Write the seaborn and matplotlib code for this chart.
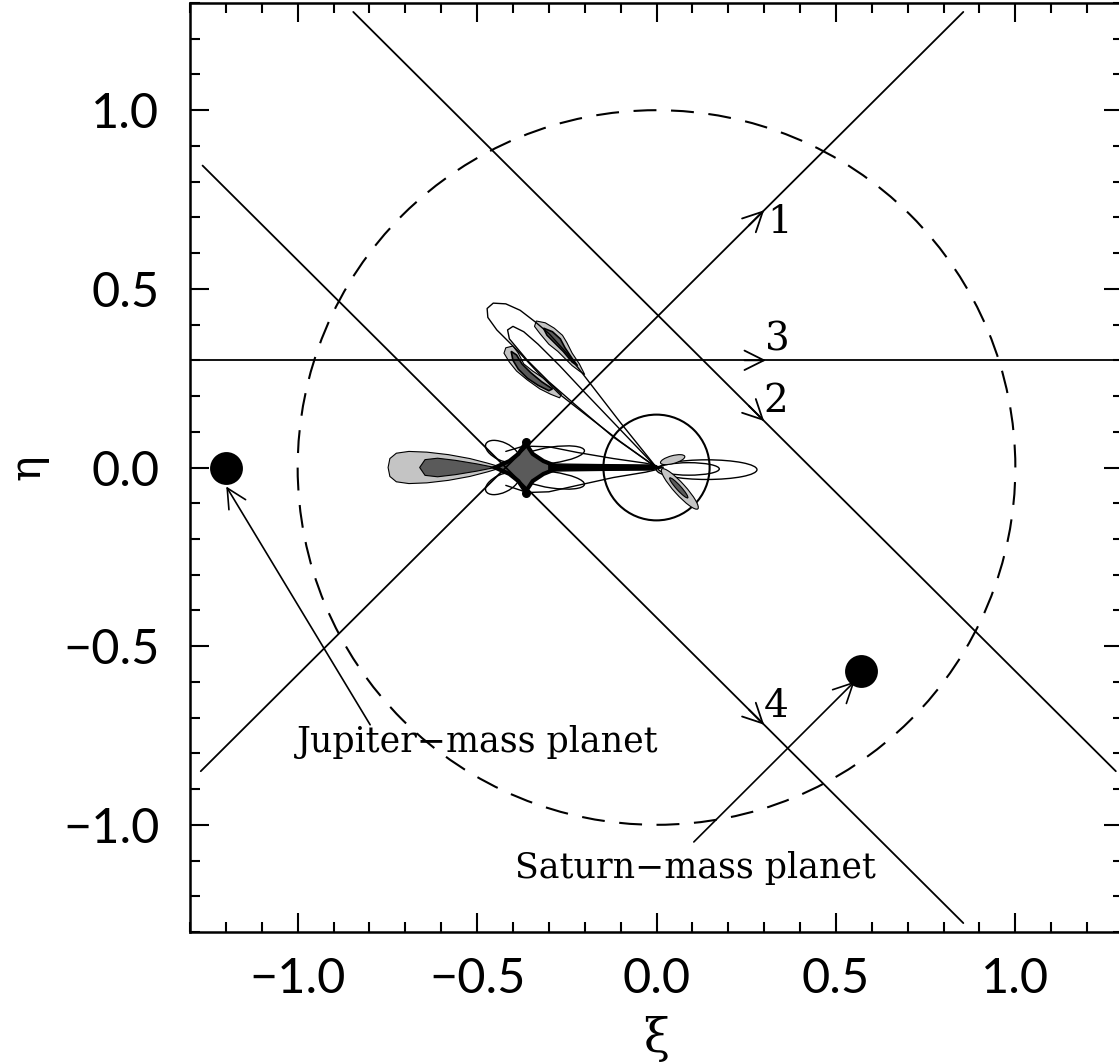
import numpy as np
import pandas as pd
import matplotlib
matplotlib.use('Agg')
import matplotlib.pyplot as plt
from matplotlib.patches import Circle, Ellipse
from matplotlib.ticker import MultipleLocator, FuncFormatter
import seaborn as sns

# --- source trajectories (start / end points, arrow position, label) ---
track_ids = ['1', '2', '3', '4']
track_x0 = [-1.27, -0.845, -1.30, -1.265]
track_y0 = [-0.85, 1.275, 0.30, 0.845]
track_x1 = [0.855, 1.28, 1.30, 0.855]
track_y1 = [1.275, -0.85, 0.30, -1.275]
arrow_tip_x = [0.30, 0.30, 0.305, 0.30]
arrow_tip_y = [0.72, 0.13, 0.30, -0.72]
num_x = [0.342, 0.333, 0.336, 0.333]
num_y = [0.686, 0.185, 0.356, -0.67]

# --- planets ---
planet_names = ['Jupiter\u2212mass planet', 'Saturn\u2212mass planet']
planet_x = [-1.20, 0.57]
planet_y = [0.0, -0.57]
planet_text_x = [-1.003, -0.395]
planet_text_y = [-0.767, -1.12]
planet_arrow_tail_x = [-0.798, 0.104]
planet_arrow_tail_y = [-0.72, -1.048]
planet_arrow_tip_x = [-1.199, 0.552]
planet_arrow_tip_y = [-0.053, -0.599]

# --- circles ---
einstein_radius = 1.0
source_radius = 0.148

# --- caustic / magnification contours ---
lobe_out_x = [-0.43, -0.47, -0.52, -0.58, -0.64, -0.69, -0.725, -0.743, -0.748,
              -0.743, -0.725, -0.69, -0.64, -0.58, -0.52, -0.47]
lobe_out_y = [0.0, 0.012, 0.025, 0.036, 0.043, 0.045, 0.040, 0.025, 0.0,
              -0.025, -0.040, -0.045, -0.043, -0.036, -0.025, -0.012]
lobe_in_x = [-0.45, -0.50, -0.56, -0.61, -0.645, -0.66, -0.645, -0.61, -0.56, -0.50]
lobe_in_y = [0.0, 0.010, 0.020, 0.026, 0.022, 0.0, -0.022, -0.026, -0.020, -0.010]
diamond_x = [-0.45, -0.41, -0.385, -0.365, -0.345, -0.315, -0.27,
             -0.315, -0.345, -0.365, -0.385, -0.41]
diamond_y = [0.0, 0.018, 0.038, 0.068, 0.038, 0.018, 0.0,
             -0.018, -0.038, -0.068, -0.038, -0.018]
knob_x = [-0.365, -0.365]
knob_y = [0.072, -0.072]
bar_x = [-0.30, -0.15, -0.02, 0.02, -0.02, -0.15, -0.30]
bar_y = [0.010, 0.008, 0.007, 0.0, -0.007, -0.008, -0.010]
lens_up_x = [-0.42, -0.37, -0.30, -0.22, -0.12, -0.03, 0.0]
lens_up_y = [0.045, 0.060, 0.058, 0.042, 0.025, 0.012, 0.005]
lens_lo_x = [-0.42, -0.36, -0.30, -0.22, -0.12, -0.03, 0.0]
lens_lo_y = [-0.050, -0.070, -0.068, -0.050, -0.028, -0.013, -0.006]

# thin loops: centre x, centre y, width, height, angle
loop_cx = [-0.43, -0.43, -0.29, -0.29, 0.14, 0.09]
loop_cy = [0.045, -0.045, 0.035, -0.035, -0.006, -0.004]
loop_w = [0.10, 0.10, 0.18, 0.18, 0.28, 0.17]
loop_h = [0.05, 0.05, 0.045, 0.045, 0.055, 0.035]
loop_ang = [-25, 25, 8, -8, 0, 0]

# small shaded lobes near the centre: cx, cy, w, h, angle, colour
small_cx = [0.045, 0.065, 0.062]
small_cy = [0.022, -0.060, -0.057]
small_w = [0.07, 0.15, 0.075]
small_h = [0.022, 0.032, 0.013]
small_ang = [15, -48, -48]
small_col = ['#c4c4c4', '#c4c4c4', '#5a5a5a']

outer_loop_x = [0.0, -0.10, -0.20, -0.25, -0.30, -0.336, -0.38, -0.42, -0.455, -0.472,
                -0.47, -0.445, -0.39, -0.33, -0.27, -0.20, -0.10, 0.0]
outer_loop_y = [0.0, 0.125, 0.255, 0.32, 0.375, 0.406, 0.44, 0.458, 0.46, 0.445,
                0.42, 0.385, 0.33, 0.265, 0.205, 0.15, 0.072, 0.0]
inner_loop_x = [0.0, -0.10, -0.20, -0.27, -0.33, -0.37, -0.40, -0.415,
                -0.41, -0.385, -0.36, -0.30, -0.22, -0.12, 0.0]
inner_loop_y = [0.0, 0.105, 0.21, 0.285, 0.345, 0.38, 0.395, 0.385,
                0.36, 0.33, 0.30, 0.24, 0.17, 0.085, 0.0]

blob1_x = [-0.335, -0.31, -0.285, -0.262, -0.25, -0.235, -0.215, -0.20, -0.215,
           -0.235, -0.255, -0.275, -0.30, -0.325, -0.34]
blob1_y = [0.41, 0.405, 0.39, 0.37, 0.35, 0.32, 0.29, 0.26, 0.27,
           0.285, 0.305, 0.325, 0.345, 0.375, 0.395]
blob1_in_x = [-0.315, -0.29, -0.268, -0.255, -0.235, -0.22, -0.235, -0.26, -0.28, -0.305]
blob1_in_y = [0.39, 0.38, 0.36, 0.335, 0.305, 0.285, 0.295, 0.325, 0.345, 0.37]
blob2_x = [-0.42, -0.40, -0.385, -0.37, -0.345, -0.315, -0.285, -0.265, -0.27,
           -0.295, -0.325, -0.36, -0.39, -0.41, -0.425]
blob2_y = [0.335, 0.34, 0.32, 0.29, 0.27, 0.25, 0.225, 0.205, 0.195,
           0.205, 0.22, 0.245, 0.27, 0.295, 0.32]
blob2_in_x = [-0.405, -0.39, -0.375, -0.35, -0.32, -0.29, -0.30, -0.33, -0.36, -0.385, -0.40]
blob2_in_y = [0.325, 0.315, 0.29, 0.265, 0.24, 0.22, 0.215, 0.23, 0.25, 0.275, 0.30]

LIGHT = '#c4c4c4'
DARK = '#5a5a5a'

sns.set_style('ticks')
plt.rcParams['font.family'] = ['DejaVu Sans']
plt.rcParams['text.color'] = 'black'
plt.rcParams['axes.labelcolor'] = 'black'

fig = plt.figure(figsize=(11.19, 10.64), dpi=100)
ax = fig.add_axes([190 / 1119, 132 / 1064, 933 / 1119, 929 / 1064])

# trajectories through seaborn
tracks = pd.DataFrame({
    'track': [t for t in track_ids for _ in range(2)],
    'x': [v for pair in zip(track_x0, track_x1) for v in pair],
    'y': [v for pair in zip(track_y0, track_y1) for v in pair],
})
sns.lineplot(data=tracks, x='x', y='y', hue='track', units='track', estimator=None,
             sort=False, palette=['black'] * 4, linewidth=1.3, legend=False, ax=ax)

for i, t in enumerate(track_ids):
    d = np.array([track_x1[i] - track_x0[i], track_y1[i] - track_y0[i]])
    d = d / np.hypot(*d)
    tip = (arrow_tip_x[i], arrow_tip_y[i])
    ax.annotate('', xy=tip, xytext=(tip[0] - 0.06 * d[0], tip[1] - 0.06 * d[1]),
                arrowprops=dict(arrowstyle='->,head_length=0.7,head_width=0.35',
                                color='black', lw=1.3, mutation_scale=20,
                                shrinkA=0, shrinkB=0))
    ax.text(num_x[i], num_y[i], t, fontsize=28, family='DejaVu Serif',
            ha='center', va='center')

# circles
ax.add_patch(Circle((0, 0), einstein_radius, fill=False, ls=(0, (11, 7)), lw=1.5, ec='black'))
ax.add_patch(Circle((0, 0), source_radius, fill=False, lw=1.5, ec='black'))

# contours
ax.fill(lobe_out_x, lobe_out_y, fc=LIGHT, ec='black', lw=0.8)
ax.fill(lobe_in_x, lobe_in_y, fc=DARK, ec='black', lw=0.8)
ax.plot(lens_up_x, lens_up_y, color='black', lw=1.0)
ax.plot(lens_lo_x, lens_lo_y, color='black', lw=1.0)
for cx, cy, w, h, a in zip(loop_cx, loop_cy, loop_w, loop_h, loop_ang):
    ax.add_patch(Ellipse((cx, cy), w, h, angle=a, fill=False, ec='black', lw=1.0))
for cx, cy, w, h, a, c in zip(small_cx, small_cy, small_w, small_h, small_ang, small_col):
    ax.add_patch(Ellipse((cx, cy), w, h, angle=a, fc=c, ec='black', lw=0.8))
ax.fill(diamond_x, diamond_y, fc=DARK, ec='black', lw=3.0)
ax.fill(bar_x, bar_y, fc='black', ec='black', lw=1.0)
ax.scatter(knob_x, knob_y, s=30, color='black', zorder=4)

ax.plot(outer_loop_x, outer_loop_y, color='black', lw=1.0)
ax.plot(inner_loop_x, inner_loop_y, color='black', lw=1.0)
ax.fill(blob1_x, blob1_y, fc=LIGHT, ec='black', lw=0.8)
ax.fill(blob1_in_x, blob1_in_y, fc=DARK, ec='black', lw=1.2)
ax.fill(blob2_x, blob2_y, fc=LIGHT, ec='black', lw=0.8)
ax.fill(blob2_in_x, blob2_in_y, fc=DARK, ec='black', lw=1.2)

# planets
sns.scatterplot(x=planet_x, y=planet_y, s=480, color='black', edgecolor='black',
                legend=False, ax=ax, zorder=5)
for i, name in enumerate(planet_names):
    ax.annotate('', xy=(planet_arrow_tip_x[i], planet_arrow_tip_y[i]),
                xytext=(planet_arrow_tail_x[i], planet_arrow_tail_y[i]),
                arrowprops=dict(arrowstyle='->,head_length=0.7,head_width=0.35',
                                color='black', lw=1.2, mutation_scale=20,
                                shrinkA=0, shrinkB=0))
    ax.text(planet_text_x[i], planet_text_y[i], name, fontsize=25,
            family='DejaVu Serif', ha='left', va='center')

ax.set_xlim(-1.3, 1.3)
ax.set_ylim(-1.3, 1.3)
ax.xaxis.set_major_locator(MultipleLocator(0.5))
ax.xaxis.set_minor_locator(MultipleLocator(0.1))
ax.yaxis.set_major_locator(MultipleLocator(0.5))
ax.yaxis.set_minor_locator(MultipleLocator(0.1))
minus_fmt = FuncFormatter(lambda v, pos: f'{v:.1f}'.replace('-', '\u2212'))
ax.xaxis.set_major_formatter(minus_fmt)
ax.yaxis.set_major_formatter(minus_fmt)
ax.tick_params(which='both', direction='in', top=True, right=True, width=1.5, colors='black')
ax.tick_params(which='major', length=14, labelsize=35)
ax.tick_params(which='minor', length=7)
ax.tick_params(axis='x', which='major', pad=18)
ax.tick_params(axis='y', which='major', pad=22)
for lab in ax.get_xticklabels() + ax.get_yticklabels():
    lab.set_family(['Lato', 'DejaVu Sans'])
    lab.set_fontweight('normal')
    lab.set_color('black')
for sp in ax.spines.values():
    sp.set_linewidth(1.8)
    sp.set_color('black')

ax.set_xlabel('\u03be', fontsize=34, family='DejaVu Serif')
ax.set_ylabel('\u03b7', fontsize=31, family='DejaVu Serif')
ax.xaxis.set_label_coords(0.5, -0.09)
ax.yaxis.set_label_coords(-0.152, 0.5)

fig.savefig('out.png', dpi=100)
